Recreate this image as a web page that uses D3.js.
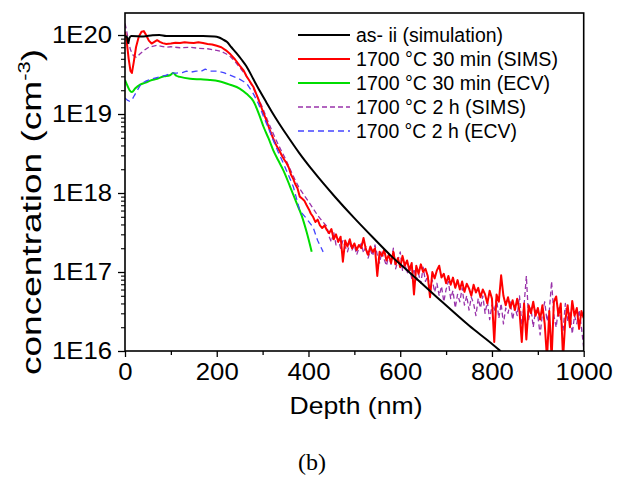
<!DOCTYPE html>
<html>
<head>
<meta charset="utf-8">
<script src="https://cdn.jsdelivr.net/npm/d3@7"></script>
<style>
  html, body { margin: 0; padding: 0; background: #fff; }
  svg { display: block; }
  text { fill: #000; }
</style>
</head>
<body>
<svg id="chart" width="625" height="484"></svg>
<script>
// ---------------- data ----------------
const xTickValues = [0, 200, 400, 600, 800, 1000];
const xMinorValues = [100, 300, 500, 700, 900];
const yTickValues = [1e16, 1e17, 1e18, 1e19, 1e20];
const yTickLabels = ["1E16", "1E17", "1E18", "1E19", "1E20"];

const legendLabels = [
  "as- ii (simulation)",
  "1700 °C 30 min (SIMS)",
  "1700 °C 30 min (ECV)",
  "1700 °C 2 h (SIMS)",
  "1700 °C 2 h (ECV)"
];

// as-implanted simulation
const simDepth = [0, 4, 7, 10, 14, 40, 60, 75, 90, 130, 170, 195, 205, 213, 222, 232, 243, 254, 265, 280, 294, 308, 320, 336, 352, 380, 410, 458, 500, 540, 580, 621, 680, 750, 814, 840];
const simConc  = [9.6e19, 9.6e19, 7.9e19, 9.3e19, 9.7e19, 9.6e19, 9.9e19, 1.0e20, 9.7e19, 9.7e19, 9.7e19, 9.6e19, 9.3e19, 8.8e19, 8.2e19, 7.0e19, 5.9e19, 4.9e19, 4.0e19, 2.75e19, 1.95e19, 1.41e19, 1.07e19, 7.6e18, 5.5e18, 3.2e18, 1.9e18, 8.9e17, 4.8e17, 2.75e17, 1.6e17, 9.8e16, 4.8e16, 2.1e16, 1.05e16, 7.5e15];

// 1700 °C 30 min (SIMS)
const sims30Depth = [0, 4, 8, 12, 15, 19, 24, 30, 36, 41, 46, 52, 58, 64, 70, 76, 82, 90, 100, 110, 120, 130, 140, 150, 160, 170, 180, 190, 200, 210, 220, 230, 240, 250, 258, 265, 272, 280, 287, 294, 300, 307, 313, 319, 325, 331, 337, 343, 348, 352, 357, 362, 367, 371, 376, 381, 386, 391, 396, 401, 405, 410, 415, 420, 425, 430, 435, 440,
  445, 450, 455, 460, 465, 470, 475, 480, 485, 490, 495, 500, 505, 510, 515, 520, 525, 530, 535, 540, 545, 550, 555, 560, 565, 570, 575, 580, 585, 590, 595, 600, 605, 610, 615, 620, 625, 630, 635, 640, 645, 650, 655, 660, 665, 670, 675, 680, 685, 690, 695, 700, 705, 710, 715, 720, 725, 730, 735, 740, 745, 750, 755, 760, 765, 770, 775, 780, 785, 790, 795, 800, 805, 810, 815, 820, 825, 830, 835, 840, 845, 850, 855, 860, 865, 870, 875, 880, 885, 890, 895, 900, 905, 910, 915, 920, 925, 930, 935, 940, 945, 950, 955, 960, 965, 970, 975, 980, 985, 990, 995, 1000];
const sims30Conc = [1.1e20, 8e19, 5e19, 3.5e19, 3.3e19, 4.5e19, 7e19, 9.5e19, 1.1e20, 1.12e20, 1.0e20, 8.5e19, 7.8e19, 8.2e19, 8.6e19, 8.2e19, 7.9e19, 7.7e19, 7.8e19, 8.0e19, 7.9e19, 8.1e19, 8.0e19, 7.9e19, 8.1e19, 7.9e19, 7.7e19, 7.6e19, 7.3e19, 7.0e19, 6.4e19, 5.7e19, 4.9e19, 4.1e19, 3.6e19, 3.0e19, 2.6e19, 2.2e19, 1.75e19, 1.37e19, 1.1e19, 8.7e18, 6.9e18, 5.6e18, 4.6e18, 3.9e18, 3.4e18, 2.9e18, 2.6e18, 2.4e18, 2.1e18, 1.7e18, 1.5e18, 1.3e18, 1.15e18, 9.0e17, 8.5e17, 8.0e17, 7.0e17, 6.2e17, 5.5e17, 5.0e17, 4.3e17, 4.6e17, 3.9e17, 3.6e17, 3.9e17, 3.4e17,
  3.1e17, 3.5e17, 2.6e17, 3.0e17, 2.4e17, 2.8e17, 1.35e17, 2.5e17, 2.1e17, 2.6e17,
  2.0e17, 2.3e17, 1.9e17, 2.2e17, 2.0e17, 2.7e17, 1.95e17, 1.65e17, 2.1e17, 1.8e17,
  2.0e17, 8.9e16, 1.8e17, 1.6e17, 1.9e17, 1.4e17, 1.65e17, 1.3e17, 1.8e17, 1.25e17,
  1.5e17, 1.15e17, 1.6e17, 1.2e17, 1.4e17, 1.05e17, 1.3e17, 5.2e16, 1.2e17, 9.5e16,
  1.25e17, 1.0e17, 1.1e17, 8.9e16, 4.8e16, 1.0e17, 8.3e16, 1.05e17, 1.2e17, 8.5e16,
  9.5e16, 7.2e16, 8.9e16, 6.9e16, 8.5e16, 6.3e16, 7.9e16, 6.0e16, 7.6e16, 5.6e16,
  7.1e16, 6.2e16, 5.0e16, 6.9e16, 5.5e16, 6.3e16, 4.8e16, 6.0e16, 5.2e16, 4.0e16,
  5.8e16, 4.6e16, 1.3e16, 5.2e16, 4.2e16, 9.1e16, 5.0e16, 3.8e16, 4.8e16, 3.5e16,
  4.4e16, 3.3e16, 4.6e16, 3.2e16, 1.3e16, 4.0e16, 1.4e16, 3.8e16, 3.0e16, 4.2e16,
  2.8e16, 3.5e16, 2.5e16, 3.8e16, 2.2e16, 8e15, 3.2e16, 8e15, 4.2e16, 4.9e16,
  2.8e16, 4.0e16, 8e15, 2.5e16, 3.8e16, 2.0e16, 4.3e16, 2.8e16, 3.5e16, 1.9e16,
  3.2e16, 2.6e16];

// 1700 °C 30 min (ECV)
const ecv30Depth = [0, 5, 10, 15, 22, 33, 45, 55, 70, 85, 98, 105, 112, 120, 142, 165, 185, 205, 229, 250, 265, 280, 292, 302, 313, 323, 334, 345, 360, 374, 385, 396, 407];
const ecv30Conc  = [2.7e19, 2.3e19, 2.0e19, 1.9e19, 2.1e19, 2.35e19, 2.5e19, 2.65e19, 2.8e19, 3.0e19, 3.1e19, 3.3e19, 3.05e19, 2.95e19, 2.8e19, 2.75e19, 2.7e19, 2.6e19, 2.35e19, 2.1e19, 1.8e19, 1.45e19, 1.0e19, 6.9e18, 4.9e18, 3.5e18, 2.6e18, 1.95e18, 1.2e18, 7.5e17, 5.2e17, 3.2e17, 1.8e17];

// 1700 °C 2 h (SIMS)
const sims2hDepth = [0, 4, 8, 12, 18, 25, 33, 40, 50, 60, 70, 80, 90, 100, 120, 140, 160, 180, 200, 210, 220, 230, 240, 250, 260, 270, 280, 290, 300, 310, 320, 330, 340, 350, 360, 370, 380, 390, 400, 410, 420, 430, 440,
  445, 450, 455, 460, 465, 470, 475, 480, 485, 490, 495, 500, 505, 510, 515, 520, 525, 530, 535, 540, 545, 550, 555, 560, 565, 570, 575, 580, 585, 590, 595, 600, 605, 610, 615, 620, 625, 630, 635, 640, 645, 650, 655, 660, 665, 670, 675, 680, 685, 690, 695, 700, 705, 710, 715, 720, 725, 730, 735, 740, 745, 750, 755, 760, 765, 770, 775, 780, 785, 790, 795, 800, 805, 810, 815, 820, 825, 830, 835, 840, 845, 850, 855, 860, 865, 870, 875, 880, 885, 890, 895, 900, 905, 910, 915, 920, 925, 930, 935, 940, 945, 950, 955, 960, 965, 970, 975, 980, 985, 990, 995, 1000];
const sims2hConc = [1.4e20, 1.1e20, 8e19, 6.5e19, 5.5e19, 5.2e19, 5.8e19, 6.3e19, 6.9e19, 7.2e19, 7.4e19, 7.2e19, 7.0e19, 7.1e19, 6.9e19, 7.0e19, 6.8e19, 6.7e19, 6.4e19, 6.2e19, 5.8e19, 5.3e19, 4.6e19, 3.9e19, 3.3e19, 2.7e19, 2.1e19, 1.6e19, 1.2e19, 8.5e18, 6.2e18, 4.6e18, 3.5e18, 2.7e18, 2.0e18, 1.5e18, 1.15e18, 9.5e17, 7.8e17, 6.4e17, 5.2e17, 4.4e17, 3.8e17,
  2.8e17, 2.4e17, 3.2e17, 2.2e17, 2.6e17, 2.0e17, 2.5e17, 2.1e17, 1.8e17, 2.3e17,
  1.9e17, 2.2e17, 1.65e17, 2.0e17, 2.3e17, 1.75e17, 2.1e17, 1.5e17, 1.9e17, 1.6e17,
  2.2e17, 1.65e17, 1.3e17, 1.8e17, 1.45e17, 1.2e17, 1.65e17, 1.25e17, 2.0e17, 1.1e17,
  1.4e17, 1.8e17, 1.05e17, 1.3e17, 9.5e16, 1.2e17, 8.3e16, 1.1e17, 7.9e16, 9.5e16,
  7.2e16, 1.15e17, 7.6e16, 8.9e16, 6.3e16, 7.9e16, 5.6e16, 7.2e16, 5.0e16, 6.6e16,
  4.2e16, 6.0e16, 7.6e16, 4.6e16, 5.8e16, 3.5e16, 5.2e16, 4.2e16, 6.3e16, 3.8e16,
  5.0e16, 3.3e16, 4.8e16, 4.0e16, 2.8e16, 4.6e16, 3.5e16, 5.0e16, 3.0e16, 4.2e16,
  2.5e16, 3.8e16, 3.2e16, 4.6e16, 2.6e16, 4.0e16, 2.2e16, 3.5e16, 3.0e16, 4.2e16,
  2.5e16, 3.6e16, 2.8e16, 5.0e16, 2.2e16, 3.8e16, 8.9e16, 2.5e16, 3.5e16, 2.0e16,
  3.3e16, 2.8e16, 1.6e16, 3.0e16, 4.2e16, 2.4e16, 3.2e16, 7.6e16, 2.8e16, 2.0e16,
  3.5e16, 2.5e16, 1.8e16, 4.0e16, 2.4e16, 3.2e16, 1.65e16, 2.8e16, 2.2e16, 3.3e16,
  2.0e16, 1.1e16];

// 1700 °C 2 h (ECV)
const ecv2hDepth = [0, 5, 10, 15, 20, 27, 35, 45, 60, 76, 90, 100, 113, 125, 134, 145, 155, 165, 175, 185, 200, 215, 229, 248, 265, 280, 291, 302, 313, 323, 334, 345, 356, 367, 381, 395, 410, 420, 432];
const ecv2hConc  = [1.6e19, 1.5e19, 1.45e19, 1.5e19, 1.7e19, 2.0e19, 2.4e19, 2.6e19, 2.8e19, 2.95e19, 3.1e19, 3.3e19, 3.3e19, 3.35e19, 3.5e19, 3.4e19, 3.5e19, 3.45e19, 3.7e19, 3.5e19, 3.5e19, 3.35e19, 3.1e19, 2.8e19, 2.45e19, 1.8e19, 1.35e19, 9.3e18, 6.6e18, 4.7e18, 3.3e18, 2.4e18, 1.7e18, 1.2e18, 6.0e17, 4.8e17, 3.7e17, 2.5e17, 1.8e17];

// ---------------- chart ----------------
const SANS = "'Liberation Sans', Arial, sans-serif";
const SERIF = "'Liberation Serif', 'Times New Roman', serif";
const svg = d3.select("#chart");
const L = 125, R = 583.7, T = 13, B = 351;

const x = d3.scaleLinear().domain([0, 1000]).range([L, R]);
const y = d3.scaleLog().domain([1e16, 1.9e20]).range([B, T]);

svg.append("defs").append("clipPath").attr("id", "plotclip")
  .append("rect").attr("x", L).attr("y", T).attr("width", R - L).attr("height", B - T);

const series = [
  { depth: sims2hDepth, conc: sims2hConc, color: "#9933aa", width: 1.3, dash: "5,3", curve: d3.curveLinear },
  { depth: sims30Depth, conc: sims30Conc, color: "#ff0000", width: 2, dash: null, curve: d3.curveLinear },
  { depth: ecv30Depth, conc: ecv30Conc, color: "#00dd00", width: 2, dash: null, curve: d3.curveMonotoneX },
  { depth: ecv2hDepth, conc: ecv2hConc, color: "#4444ff", width: 1.3, dash: "6,4", curve: d3.curveLinear },
  { depth: simDepth, conc: simConc, color: "#000000", width: 2, dash: null, curve: d3.curveMonotoneX }
];

const gLines = svg.append("g").attr("clip-path", "url(#plotclip)");
series.forEach(s => {
  const pts = s.depth.map((d, i) => [d, s.conc[i]]);
  const line = d3.line().x(d => x(d[0])).y(d => y(d[1])).curve(s.curve);
  gLines.append("path")
    .attr("d", line(pts))
    .attr("fill", "none")
    .attr("stroke", s.color)
    .attr("stroke-width", s.width)
    .attr("stroke-linejoin", "round")
    .attr("stroke-dasharray", s.dash);
});

// frame
svg.append("rect").attr("x", L).attr("y", T).attr("width", R - L).attr("height", B - T)
  .attr("fill", "none").attr("stroke", "#000").attr("stroke-width", 1.6);

// x axis
const xAxis = svg.append("g").attr("transform", `translate(0,${B})`)
  .call(d3.axisBottom(x).tickValues(xTickValues).tickSize(6).tickPadding(6).tickFormat(d3.format("d")));
xAxis.select(".domain").remove();
xAxis.selectAll("line").attr("stroke-width", 1.3);
xAxis.selectAll("text").style("font-size", "24px").style("font-family", SANS).style("fill", "#000")
  .attr("textLength", d => String(d).length * 14.3)
  .attr("lengthAdjust", "spacingAndGlyphs");
const xMinor = svg.append("g").attr("transform", `translate(0,${B})`)
  .call(d3.axisBottom(x).tickValues(xMinorValues).tickSize(4).tickFormat(""));
xMinor.select(".domain").remove();
xMinor.selectAll("line").attr("stroke-width", 1.3);

// y axis
const yAxis = svg.append("g").attr("transform", `translate(${L},0)`)
  .call(d3.axisLeft(y).tickValues(yTickValues).tickSize(7).tickPadding(6)
    .tickFormat((d, i) => yTickLabels[i]));
yAxis.select(".domain").remove();
yAxis.selectAll("line").attr("stroke-width", 1.3);
yAxis.selectAll("text").style("font-size", "24px").style("font-family", SANS).style("fill", "#000")
  .attr("textLength", 60).attr("lengthAdjust", "spacingAndGlyphs");

const yMinorValues = [];
yTickValues.forEach(dec => { for (let k = 2; k <= 9; k++) { if (dec * k < 1.9e20) yMinorValues.push(dec * k); } });
const yMinor = svg.append("g").attr("transform", `translate(${L},0)`)
  .call(d3.axisLeft(y).tickValues(yMinorValues).tickSize(4).tickFormat(""));
yMinor.select(".domain").remove();
yMinor.selectAll("line").attr("stroke-width", 1.1);

// axis titles
svg.append("text").attr("x", 356).attr("y", 414).attr("text-anchor", "middle")
  .style("font-family", SANS).style("font-size", "24px")
  .attr("textLength", 133).attr("lengthAdjust", "spacingAndGlyphs")
  .text("Depth (nm)");

const yt = svg.append("text").attr("transform", "translate(41,212) rotate(-90)")
  .attr("text-anchor", "middle").style("font-family", SANS).style("font-size", "27px")
  .attr("textLength", 326).attr("lengthAdjust", "spacingAndGlyphs");
yt.append("tspan").text("concentration (cm");
yt.append("tspan").style("font-size", "16px").attr("dy", -11).text("-3");
yt.append("tspan").attr("dy", 11).text(")");

// legend
const legY0 = 35, legDY = 24;
const legWidths = [147, 202, 194, 170, 161];
const legOrder = [4, 1, 2, 0, 3];
legendLabels.forEach((lab, i) => {
  const s = series[legOrder[i]];
  const yy = legY0 + i * legDY;
  svg.append("line").attr("x1", 298).attr("x2", 350).attr("y1", yy).attr("y2", yy)
    .attr("stroke", s.color).attr("stroke-width", s.width).attr("stroke-dasharray", s.dash);
  svg.append("text").attr("x", 356).attr("y", yy + 7)
    .style("font-family", SANS).style("font-size", "20px")
    .attr("textLength", legWidths[i]).attr("lengthAdjust", "spacingAndGlyphs")
    .text(lab);
});

// caption
svg.append("text").attr("x", 312).attr("y", 470).attr("text-anchor", "middle")
  .style("font-family", SERIF).style("font-size", "24px")
  .text("(b)");
</script>
</body>
</html>
